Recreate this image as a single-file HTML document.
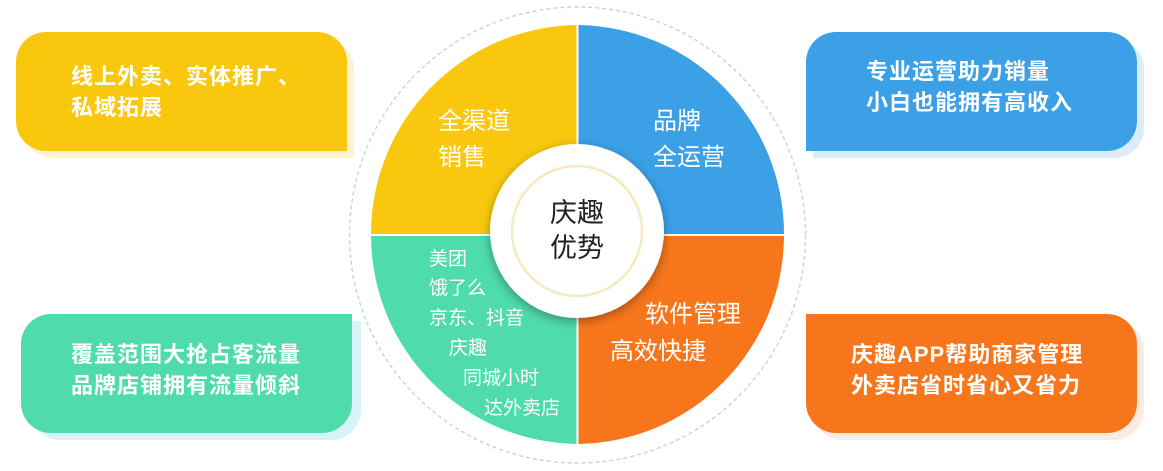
<!DOCTYPE html>
<html><head><meta charset="utf-8"><style>
body{margin:0;width:1163px;height:471px;background:#fff;position:relative;overflow:hidden;font-family:"Liberation Sans","Noto Sans CJK SC",sans-serif}
.b{position:absolute;width:331px;height:119px}
.t{position:absolute;color:#fff;font-size:22px;letter-spacing:1px;line-height:31px;white-space:nowrap;font-weight:bold}
.s{position:absolute;color:#fff;font-size:24px;line-height:36px;white-space:nowrap}
.g{position:absolute;color:#fff;font-size:19px;line-height:30px;white-space:nowrap}
</style></head><body>
<div class="b" style="left:23px;top:39px;background:#fdf3d2;border-radius:30px 30px 0 30px"></div>
<div class="b" style="left:16px;top:32px;background:#f9c80e;border-radius:30px 30px 0 30px"></div>
<div class="b" style="left:813px;top:39px;background:#dcedf9;border-radius:30px 30px 30px 0"></div>
<div class="b" style="left:806px;top:32px;background:#3ba0e6;border-radius:30px 30px 30px 0"></div>
<div class="b" style="left:30px;top:321px;background:#d8f3f6;border-radius:30px 0 30px 30px"></div>
<div class="b" style="left:21px;top:314px;background:#4fdbab;border-radius:30px 0 30px 30px"></div>
<div class="b" style="left:813px;top:321px;background:#fcebe0;border-radius:0 30px 30px 30px"></div>
<div class="b" style="left:806px;top:314px;background:#f7761c;border-radius:0 30px 30px 30px"></div>
<div class="t" style="left:71px;top:61px">线上外卖、实体推广、<br>私域拓展</div>
<div class="t" style="left:866px;top:56px">专业运营助力销量<br>小白也能拥有高收入</div>
<div class="t" style="left:71px;top:339px">覆盖范围大抢占客流量<br>品牌店铺拥有流量倾斜</div>
<div class="t" style="left:851px;top:339px">庆趣APP帮助商家管理<br>外卖店省时省心又省力</div>
<svg width="1163" height="471" style="position:absolute;left:0;top:0">
<defs><filter id="sh" x="-30%" y="-30%" width="160%" height="160%"><feDropShadow dx="0" dy="3" stdDeviation="5" flood-color="#000" flood-opacity="0.35"/></filter></defs>
<circle cx="577.5" cy="235" r="228" fill="none" stroke="#c5d6e3" stroke-width="1.5" stroke-dasharray="4 3"/>
<path d="M576.5 234 L576.5 25 A209 209 0 0 0 371 234 Z" fill="#f9c80e"/>
<path d="M578.5 234 L578.5 25 A209 209 0 0 1 784 234 Z" fill="#3ba0e6"/>
<path d="M576.5 236 L371 236 A209 209 0 0 0 576.5 444 Z" fill="#4fdbab"/>
<path d="M578.5 236 L784 236 A209 209 0 0 1 578.5 444 Z" fill="#f7761c"/>
<circle cx="577" cy="231" r="87" fill="#fff" filter="url(#sh)"/>
<circle cx="577" cy="231" r="65" fill="none" stroke="#f5e9c0" stroke-width="2.5"/>
</svg>
<div style="position:absolute;left:537px;top:196px;width:80px;text-align:center;font-size:27px;line-height:35px;color:#222">庆趣<br>优势</div>
<div class="s" style="left:438px;top:104px">全渠道<br>销售</div>
<div class="s" style="left:653px;top:104px">品牌<br>全运营</div>
<div class="s" style="left:645px;top:297px">软件管理</div>
<div class="s" style="left:610px;top:334px">高效快捷</div>
<div class="g" style="left:429px;top:245px">美团</div>
<div class="g" style="left:429px;top:274px">饿了么</div>
<div class="g" style="left:429px;top:304px">京东、抖音</div>
<div class="g" style="left:449px;top:334px">庆趣</div>
<div class="g" style="left:463px;top:364px">同城小时</div>
<div class="g" style="left:484px;top:394px">达外卖店</div>
</body></html>
